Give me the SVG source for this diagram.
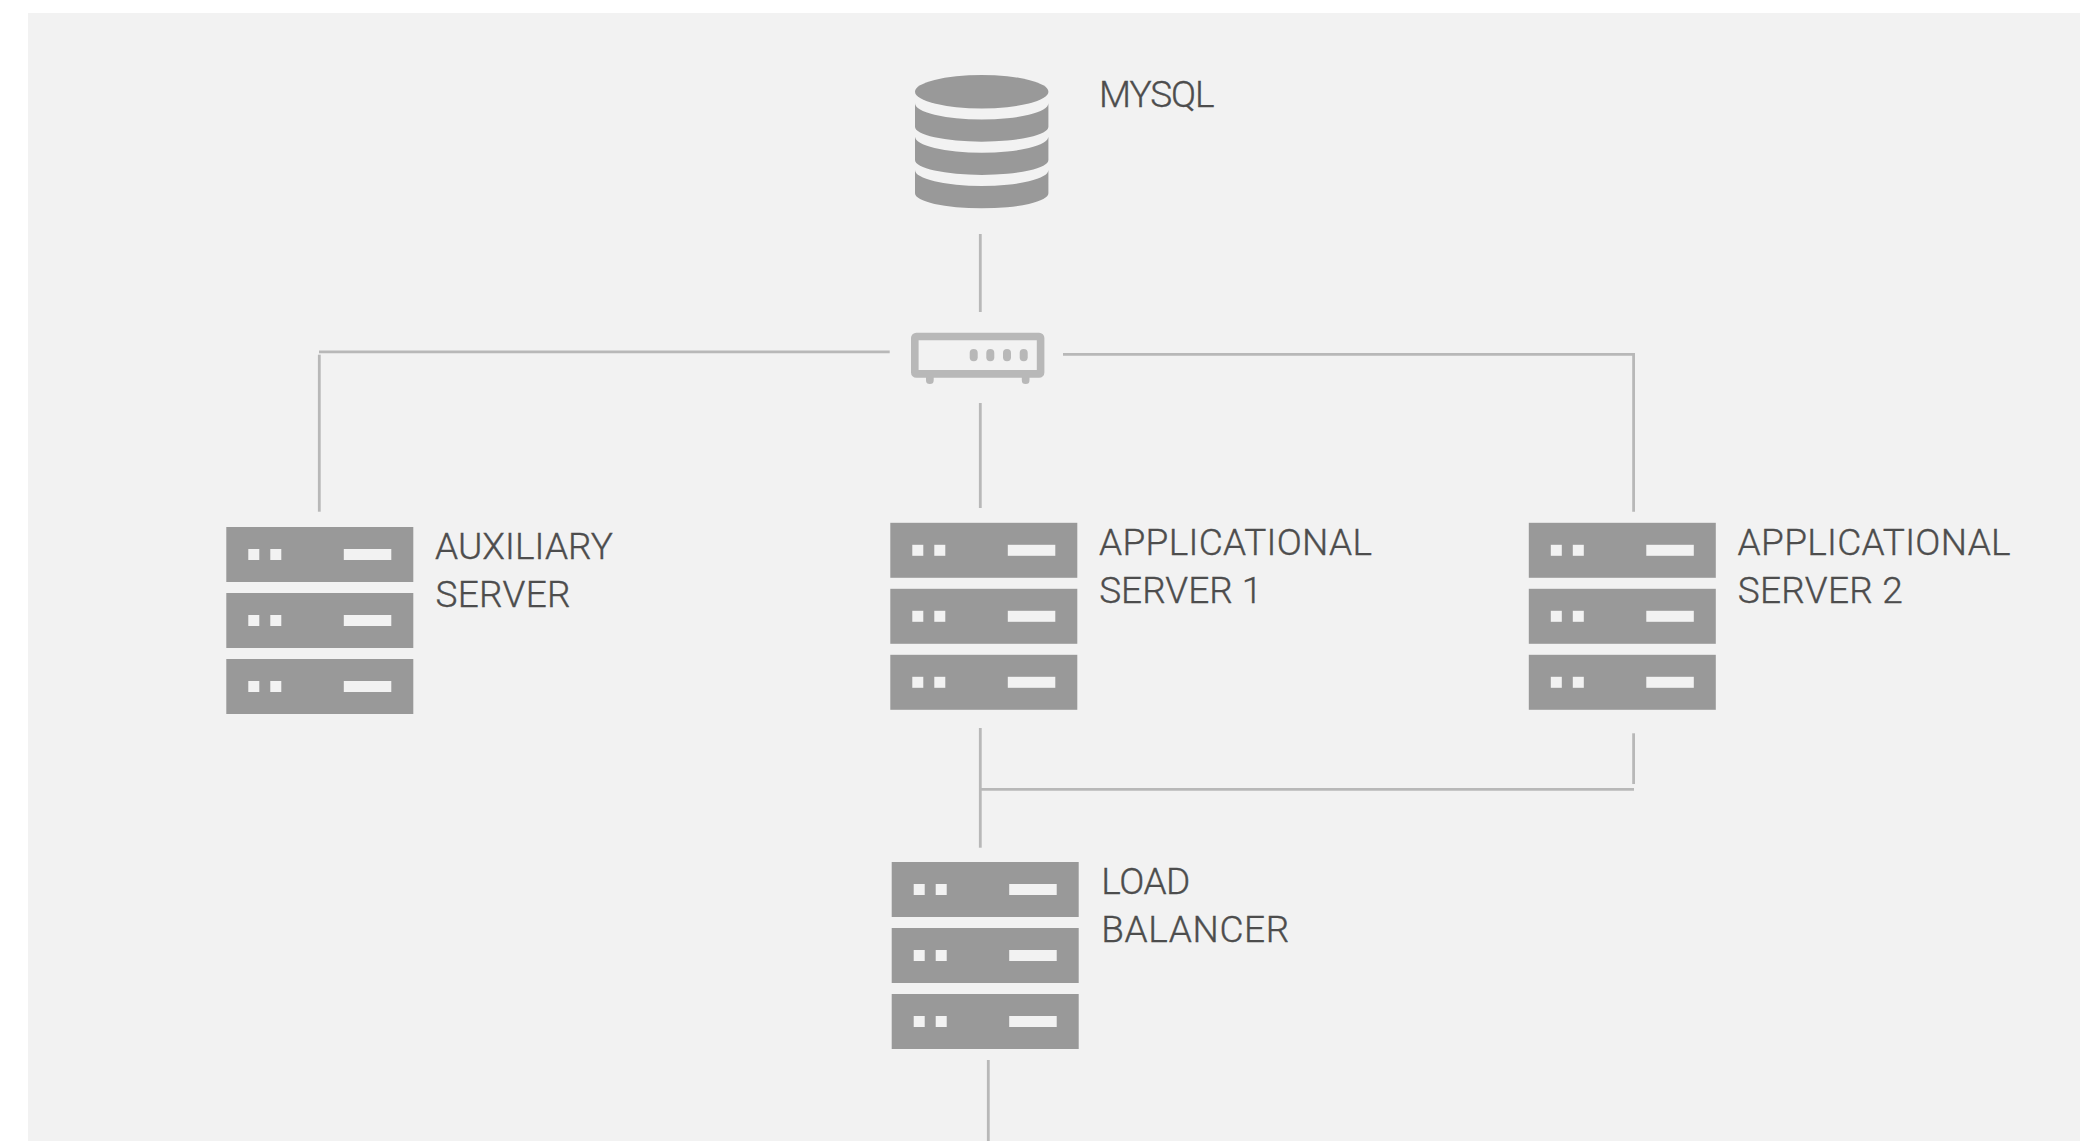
<svg xmlns="http://www.w3.org/2000/svg" width="2080" height="1141" viewBox="0 0 2080 1141">
<style>
.c{fill:none;stroke:#b8b8b8;stroke-width:2.8}
.g{fill:#999}
.h{fill:#f2f2f2}
.t{font-family:"Roboto","Liberation Sans",sans-serif;font-weight:300;font-size:37px;fill:#4d4d4d;stroke:#4d4d4d;stroke-width:.35}
</style>
<defs>
<g id="unit"><rect class="g" width="187" height="55"/><rect class="h" x="22" y="22" width="11" height="11"/><rect class="h" x="44" y="22" width="11" height="11"/><rect class="h" x="117.500" y="22" width="47.500" height="11"/></g>
<g id="srv"><use href="#unit"/><use href="#unit" y="66"/><use href="#unit" y="132"/></g>
<path id="band" class="g" d="M915 103.300A66.700 16.200 0 0 0 1048.400 103.300V126.700A66.700 15 0 0 1 915 126.700Z"/>
</defs>
<rect width="2080" height="1141" fill="#fff"/>
<rect x="28" y="13" width="2052" height="1128" fill="#f2f2f2"/>
<g id="connectors">
<path class="c" d="M980.300 234V312"/>
<path class="c" d="M889.700 351.800H319"/>
<path class="c" d="M319.300 354.700V511.700"/>
<path class="c" d="M1063 354.300H1633.600V511.700"/>
<path class="c" d="M980.300 403V508"/>
<path class="c" d="M980.300 728V847.700"/>
<path class="c" d="M980.300 789.300H1634"/>
<path class="c" d="M1633.600 784V733.300"/>
<path class="c" d="M988.300 1060V1141"/>
</g>
<g id="mysql">
<ellipse class="g" cx="981.700" cy="91.700" rx="66.700" ry="16.700"/>
<use href="#band"/><use href="#band" y="33.300"/><use href="#band" y="66.600"/>
<text class="t" x="1099" y="106.700" textLength="115.500">MYSQL</text>
</g>
<g id="router">
<rect x="914.800" y="336.500" width="125.800" height="37.400" rx="1.500" fill="none" stroke="#b8b8b8" stroke-width="7.600"/>
<path d="M926 377h7.700v3.200a3.850 3.850 0 0 1-7.700 0ZM1021.800 377h7.700v3.200a3.850 3.850 0 0 1-7.700 0Z" fill="#b8b8b8"/>
<g fill="#b8b8b8"><rect x="969.700" y="349" width="8" height="12.300" rx="4"/><rect x="986.300" y="349" width="8" height="12.300" rx="4"/><rect x="1003" y="349" width="8" height="12.300" rx="4"/><rect x="1019.700" y="349" width="8" height="12.300" rx="4"/></g>
</g>
<g id="aux"><use href="#srv" x="226.300" y="527"/>
<text class="t" x="435" y="559.300" textLength="178">AUXILIARY</text>
<text class="t" x="435.500" y="606.700" textLength="135">SERVER</text></g>
<g id="app1"><use href="#srv" x="890.300" y="522.800"/>
<text class="t" x="1099" y="555.100" textLength="273">APPLICATIONAL</text>
<text class="t" x="1099.200" y="602.500" textLength="163">SERVER 1</text></g>
<g id="app2"><use href="#srv" x="1528.800" y="522.800"/>
<text class="t" x="1737.600" y="555.100" textLength="273">APPLICATIONAL</text>
<text class="t" x="1737.800" y="602.500" textLength="165">SERVER 2</text></g>
<g id="lb"><use href="#srv" x="891.700" y="862"/>
<text class="t" x="1101.300" y="894" textLength="89">LOAD</text>
<text class="t" x="1101.300" y="941.700" textLength="188">BALANCER</text></g>
</svg>
